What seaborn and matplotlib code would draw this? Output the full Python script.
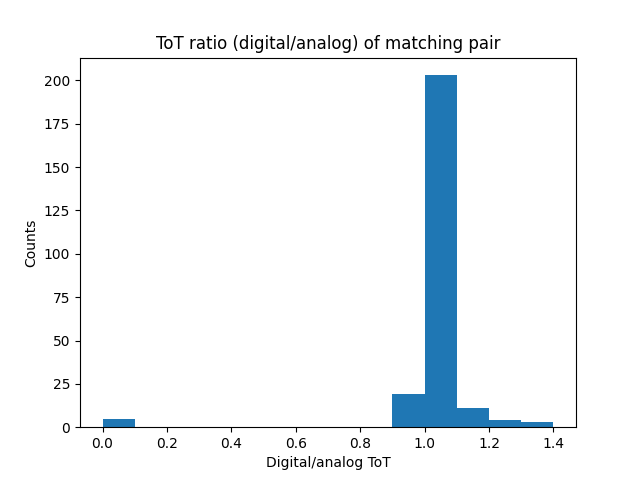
import numpy as np
import pandas as pd
import matplotlib
matplotlib.use('Agg')
import matplotlib.pyplot as plt
import seaborn as sns

# bin edges and counts
bin_edges = [0.0, 0.1, 0.2, 0.3, 0.4, 0.5, 0.6, 0.7, 0.8, 0.9, 1.0, 1.1, 1.2, 1.3, 1.4]
counts = [5, 0, 0, 0, 0, 0, 0, 0, 0, 19, 203, 11, 4, 3]

centers = [(a + b) / 2 for a, b in zip(bin_edges[:-1], bin_edges[1:])]
df = pd.DataFrame({'ratio': centers, 'n': counts})

fig, ax = plt.subplots(figsize=(6.4, 4.8), dpi=100)
sns.histplot(data=df, x='ratio', weights='n', bins=bin_edges, ax=ax,
             color='#1f77b4', alpha=1, linewidth=0)
ax.set_title('ToT ratio (digital/analog) of matching pair')
ax.set_xlabel('Digital/analog ToT')
ax.set_ylabel('Counts')
plt.savefig('out.png')
